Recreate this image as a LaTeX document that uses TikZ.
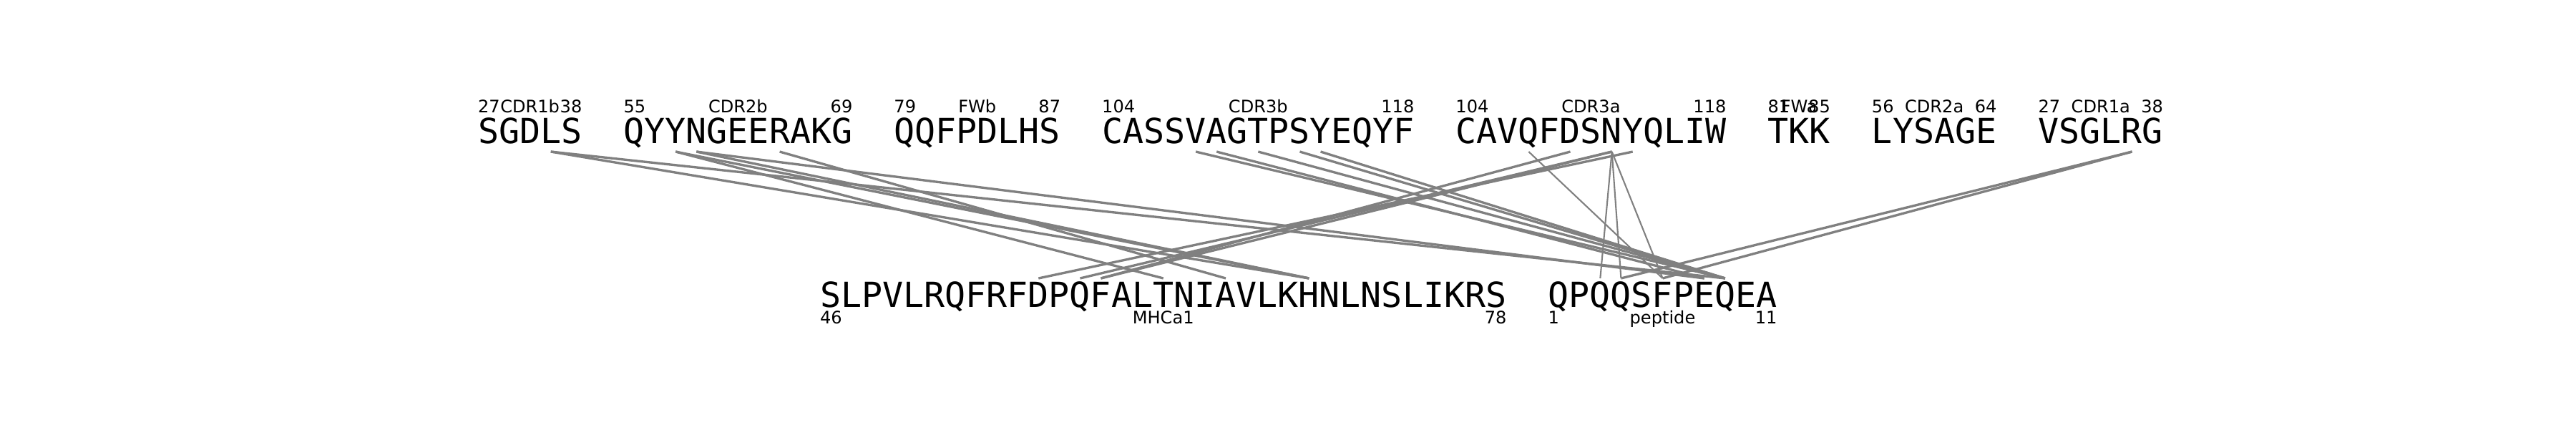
\documentclass[tikz,border=0pt]{standalone}
\usepackage{fontspec}
\setmainfont{DejaVu Sans}
\newfontfamily\seqfont{DejaVu Sans Mono}
\usetikzlibrary{positioning}

\begin{document}
\begin{tikzpicture}[
  seq/.style={inner sep=0pt,outer sep=0pt,font=\seqfont\fontsize{13.74}{14}\selectfont},
  lbl/.style={inner sep=0pt,outer sep=0pt,font=\fontsize{6.85}{7}\selectfont},
  contact/.style={draw=gray,line width=0.95pt},
  weak/.style={draw=gray,line width=0.6pt}]
\useasboundingbox (0,0) rectangle (36,6);

	% receptor loops
	\node[seq,anchor=base west] (cdr1b) at (6.68,4.0) {SGDLS};
	\node[seq,right=0.5815cm of cdr1b.base east,anchor=base west] (cdr2b) {QYYNGEERAKG};
	\node[seq,right=0.5815cm of cdr2b.base east,anchor=base west] (fwb) {QQFPDLHS};
	\node[seq,right=0.5815cm of fwb.base east,anchor=base west] (cdr3b) {CASSVAGTPSYEQYF};
	\node[seq,right=0.5815cm of cdr3b.base east,anchor=base west] (cdr3a) {CAVQFDSNYQLIW};
	\node[seq,right=0.5815cm of cdr3a.base east,anchor=base west] (fwa) {TKK};
	\node[seq,right=0.5815cm of fwa.base east,anchor=base west] (cdr2a) {LYSAGE};
	\node[seq,right=0.5815cm of cdr2a.base east,anchor=base west] (cdr1a) {VSGLRG};

	% MHC and peptide
	\node[seq,anchor=base west] (mhc) at (11.46,1.71) {SLPVLRQFRFDPQFALTNIAVLKHNLNSLIKRS};
	\node[seq,right=0.5815cm of mhc.base east,anchor=base west] (pep) {QPQQSFPEQEA};

	\foreach \s/\lo/\nm/\hi in {cdr1b/27/CDR1b/38,cdr2b/55/CDR2b/69,fwb/79/FWb/87,
	    cdr3b/104/CDR3b/118,cdr3a/104/CDR3a/118,fwa/81/FWa/85,cdr2a/56/CDR2a/64,cdr1a/27/CDR1a/38}{
		\node[lbl,anchor=base west] (\s-lo) at ([yshift=4.2mm]\s.base west) {\lo};
		\node[lbl,anchor=base] (\s-nm) at ([yshift=4.2mm]\s.base) {\nm};
		\node[lbl,anchor=base east] (\s-hi) at ([yshift=4.2mm]\s.base east) {\hi};
	}
	\foreach \s/\lo/\nm/\hi in {mhc/46/MHCa1/78,pep/1/peptide/11}{
		\node[lbl,anchor=base west] (\s-lo) at ([yshift=-2.3mm]\s.base west) {\lo};
		\node[lbl,anchor=base] (\s-nm) at ([yshift=-2.3mm]\s.base) {\nm};
		\node[lbl,anchor=base east] (\s-hi) at ([yshift=-2.3mm]\s.base east) {\hi};
	}

	% residue anchors
	\foreach \i in {3,9,10,14,34,35,37,39,40,50,52,54,55,79}
		\coordinate (t\i) at ({6.68+0.29075*(\i+0.5)},3.88);
	\foreach \j in {10,12,13,16,19,23,37,38,40,42,43}
		\coordinate (b\j) at ({11.46+0.29075*(\j+0.5)},2.11);

	% contacts
	\foreach \a/\b in {3/23,3/43,9/16,9/23,10/23,10/42,14/19,
	    34/43,35/42,37/43,39/43,40/43,52/13,54/12,54/13,55/10,79/38,79/40}
		\draw[contact] (t\a) -- (b\b);
	\foreach \a/\b in {50/40,54/37,54/38,54/40}
		\draw[weak] (t\a) -- (b\b);
\end{tikzpicture}
\end{document}
